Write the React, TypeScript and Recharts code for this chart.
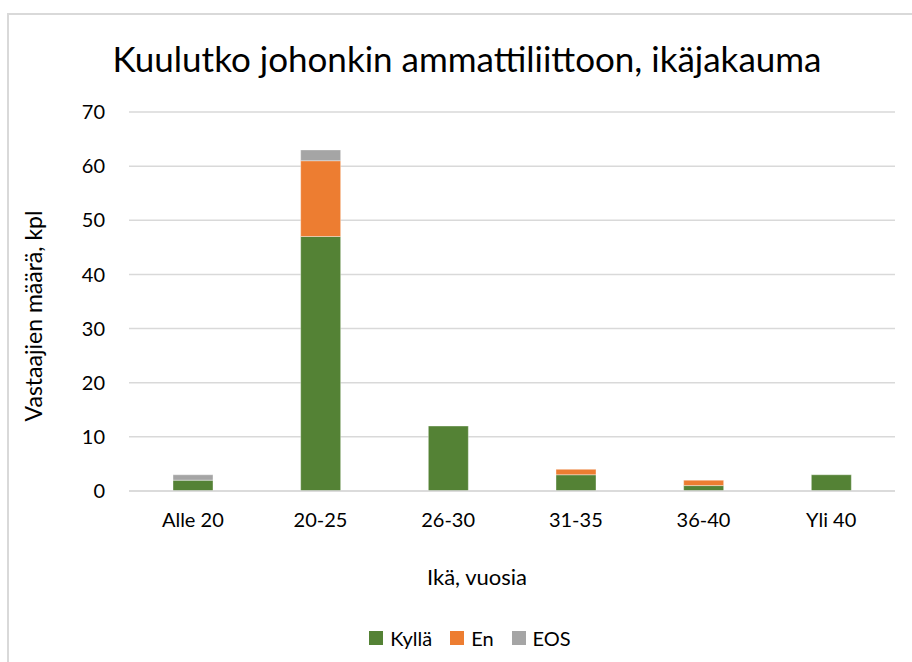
import React from "react";
import { BarChart, Bar, XAxis, YAxis, CartesianGrid } from "recharts";

const categories = ["Alle 20", "20-25", "26-30", "31-35", "36-40", "Yli 40"];
const kylla = [2, 47, 12, 3, 1, 3];
const en = [0, 14, 0, 1, 1, 0];
const eos = [1, 2, 0, 0, 0, 0];
const yTicks = [0, 10, 20, 30, 40, 50, 60, 70];

const seriesNames = ["Kyllä", "En", "EOS"];
const seriesColors = ["#548235", "#ED7D31", "#A5A5A5"];
const seriesKeys = ["kylla", "en", "eos"];

const data = categories.map((c, i) => ({ name: c, kylla: kylla[i], en: en[i], eos: eos[i] }));

const FONT = "Lato, 'Open Sans', sans-serif";

export default function App() {
  return (
    <div style={{ position: "absolute", left: 0, top: 0, width: 912, height: 662, background: "#fff", overflow: "hidden", fontFamily: FONT }}>
      <div style={{ position: "absolute", left: 7, top: 13, width: 940, height: 700, borderLeft: "2px solid #d9d9d9", borderTop: "2px solid #d9d9d9", boxSizing: "border-box" }} />
      <div style={{ position: "absolute", left: 0, top: 36, width: 934, textAlign: "center", fontSize: 35, lineHeight: "44px", color: "#000", whiteSpace: "nowrap" }}>
        Kuulutko johonkin ammattiliittoon, ikäjakauma
      </div>
      <BarChart
        width={912}
        height={662}
        data={data}
        margin={{ top: 112, right: 17, bottom: 141, left: 69 }}
        barSize={40}
        style={{ position: "absolute", left: 0, top: 0 }}
      >
        <CartesianGrid vertical={false} stroke="#d9d9d9" strokeWidth={1.5} />
        <XAxis
          dataKey="name"
          height={30}
          axisLine={{ stroke: "#d9d9d9", strokeWidth: 1.5 }}
          tickLine={false}
          tickSize={0}
          tickMargin={22}
          tick={{ fill: "#000", fontSize: 20, fontFamily: FONT }}
        />
        <YAxis
          width={60}
          domain={[0, 70]}
          ticks={yTicks}
          axisLine={false}
          tickLine={false}
          tickSize={0}
          tickMargin={24}
          tick={{ fill: "#000", fontSize: 20, fontFamily: FONT }}
        />
        {seriesKeys.map((k, i) => (
          <Bar key={k} dataKey={k} name={seriesNames[i]} stackId="a" fill={seriesColors[i]} stroke="#ffffff" strokeOpacity={0.5} strokeWidth={0.75} isAnimationActive={false} />
        ))}
      </BarChart>
      <div style={{ position: "absolute", left: 477 - 150, top: 563, width: 300, textAlign: "center", fontSize: 22, lineHeight: "28px", color: "#000" }}>
        Ikä, vuosia
      </div>
      <div style={{ position: "absolute", left: 33 - 150, top: 316 - 14, width: 300, height: 28, lineHeight: "28px", textAlign: "center", fontSize: 23, color: "#000", transform: "rotate(-90deg)", whiteSpace: "nowrap" }}>
        Vastaajien määrä, kpl
      </div>
      <div style={{ position: "absolute", left: 0, top: 626, width: 940, display: "flex", justifyContent: "center", alignItems: "center", fontSize: 20, lineHeight: "24px", color: "#000" }}>
        {seriesNames.map((n, i) => (
          <div key={n} style={{ display: "flex", alignItems: "center", marginRight: i < 2 ? 18 : 0 }}>
            <div style={{ width: 14, height: 14, background: seriesColors[i], marginRight: 7 }} />
            <span>{n}</span>
          </div>
        ))}
      </div>
    </div>
  );
}
